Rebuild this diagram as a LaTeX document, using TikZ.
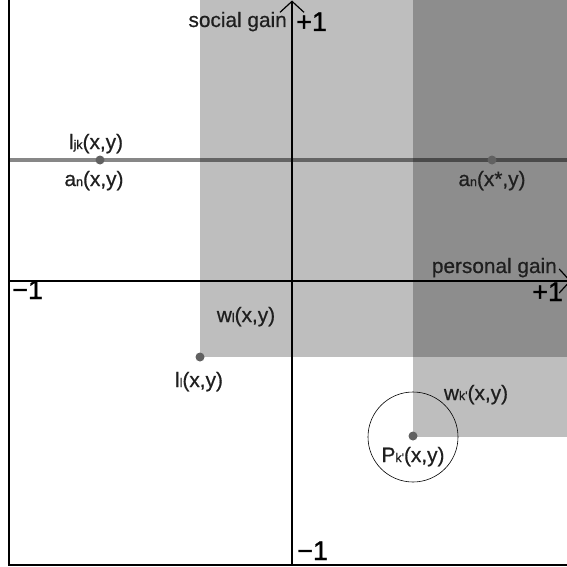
\documentclass[tikz,border=0pt]{standalone}
\usepackage{fontspec}
\setmainfont{Liberation Sans}
\newfontfamily\lblfont[FakeBold=0.6]{Liberation Sans}
\newfontfamily\numfont[FakeBold=1.2]{Liberation Sans}
\usetikzlibrary{arrows.meta}
\newcommand\sbx[1]{{\fontsize{12.5}{13}\selectfont #1}}
\begin{document}
\begin{tikzpicture}[x=1pt,y=-1pt,
 lbl/.style={inner sep=0pt, font=\lblfont\fontsize{20.8}{24}\selectfont, text=black!88},
 num/.style={inner sep=0pt, font=\numfont\fontsize{27}{30}\selectfont, text=black},
 zone/.style={fill=black, fill opacity=0.255},
 dot/.style={circle, fill=black!62, inner sep=0pt, minimum size=9pt},
 axis/.style={line width=1.4pt, black},
 tip/.style={-{Straight Barb[length=11pt,width=24pt,line width=1.2pt]}}]
\useasboundingbox (0,0) rectangle (567,567);
\clip (0,0) rectangle (567,567);
\fill[white] (0,0) rectangle (567,567);
% zones
\fill[zone] (200,-5) rectangle (572,357);
\fill[zone] (413,-5) rectangle (572,437);
% frame
\draw[line width=2.5pt] (9,-5) -- (9,565) -- (572,565);
% axes
\coordinate (yb) at (292,565);
\coordinate (yt) at (292,0.5);
\coordinate (xl) at (9,281);
\coordinate (xr) at (571,281);
\draw[axis,tip] (yb) -- (yt);
\draw[axis,tip] (xl) -- (xr);
% line l_jk
\coordinate (lA) at (9,160);
\coordinate (lB) at (572,160);
\draw[line width=3.2pt, black, draw opacity=0.47] (lA) -- (lB);
% circle
\node[draw, circle, line width=0.6pt, minimum size=90pt, inner sep=0pt] (circ) at (413,437) {};
% dots
\node[dot] (an) at (100,160) {};
\node[dot] (ans) at (492,160) {};
\node[dot] (ll) at (200,357) {};
\node[dot] (pk) at (413,436) {};
% axis labels
\node[lbl, anchor=base east] (sg) at (287,27) {social gain};
\node[num, anchor=base west] (py) at (296,31) {+1};
\node[num, anchor=base west] (my) at (297,560) {−1};
\node[lbl, anchor=base east] (pg) at (557,273) {personal gain};
\node[num, anchor=base west] (px) at (532,301) {+1};
\node[num, anchor=base west] (mx) at (12,299) {−1};
% point labels
\node[lbl, anchor=base] (tljk) at (96,149) {l\sbx{jk}(x,y)};
\node[lbl, anchor=base] (tan) at (94,186) {a\sbx{n}(x,y)};
\node[lbl, anchor=base] (tans) at (492,186) {a\sbx{n}(x*,y)};
\node[lbl, anchor=base] (twl) at (246,322) {w\sbx{l}(x,y)};
\node[lbl, anchor=base] (tll) at (199,387) {l\sbx{l}(x,y)};
\node[lbl, anchor=base] (twk) at (476,400) {w\sbx{k'}(x,y)};
\node[lbl, anchor=base] (tpk) at (413,462) {P\sbx{k'}(x,y)};
\end{tikzpicture}
\end{document}
